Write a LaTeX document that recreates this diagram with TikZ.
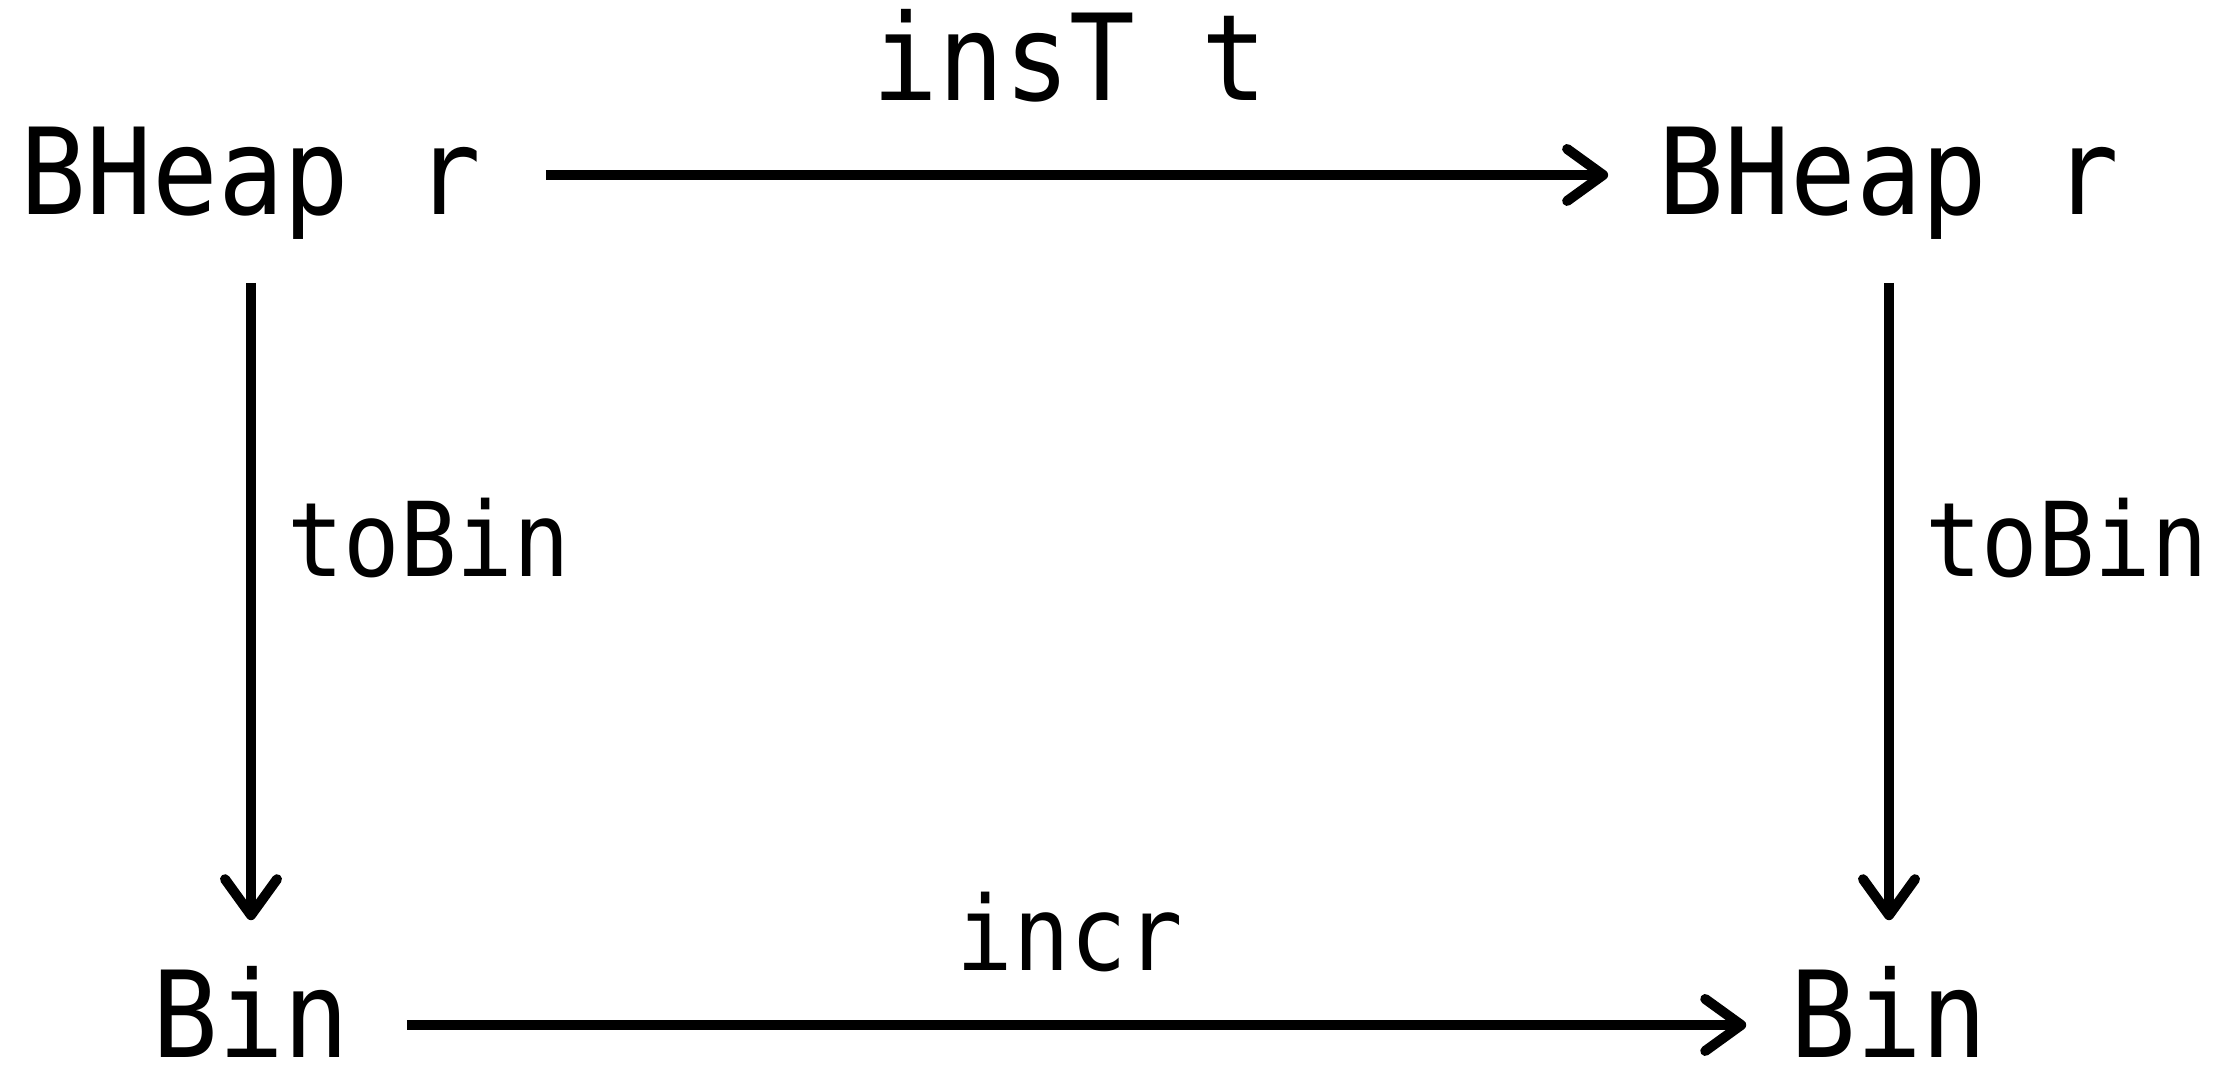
\documentclass[tikz,border=0pt]{standalone}
\usepackage{fontspec}
\newfontfamily\codefont[FakeStretch=0.91]{DejaVu Sans Mono}
\usetikzlibrary{arrows.meta,positioning}

\begin{document}
\begin{tikzpicture}[x=0.25pt, y=0.25pt,
    obj/.style={font=\codefont\fontsize{30pt}{30pt}\selectfont,
      inner sep=0pt, text height=20pt, text depth=0pt},
    bigl/.style={font=\codefont\fontsize{30pt}{30pt}\selectfont, inner sep=0pt},
    lbl/.style={font=\codefont\fontsize{25.8pt}{25.8pt}\selectfont, inner sep=0pt},
    arr/.style={line width=2.5pt, -{Straight Barb[length=9pt,width=13pt,round]}}]

    \useasboundingbox (0,0) rectangle (2214,1066);

    % objects
    \node[obj, anchor=base] (tl) at (251,851) {BHeap r};
    \node[obj, anchor=base] (tr) at (1889,851) {BHeap r};
    \node[obj, anchor=base, text height=16.5pt] (bl) at (251,8) {Bin};
    \node[obj, anchor=base, text height=16.5pt] (br) at (1889,8) {Bin};

    % top and bottom maps
    \draw[arr, shorten <=16pt, shorten >=12.5pt] (tl) -- (tr)
        node[bigl, midway, above=17pt] {insT t};
    \draw[arr, shorten <=14.1pt, shorten >=10.85pt] (bl) -- (br)
        node[lbl, midway, above=12pt] {incr};

    % left and right maps
    \draw[arr, shorten <=16.75pt, shorten >=17.75pt] (tl) -- (bl)
        node[lbl, pos=0.416, right=7.75pt] {toBin};
    \draw[arr, shorten <=16.75pt, shorten >=17.75pt] (tr) -- (br)
        node[lbl, pos=0.416, right=7.75pt] {toBin};
\end{tikzpicture}
\end{document}
